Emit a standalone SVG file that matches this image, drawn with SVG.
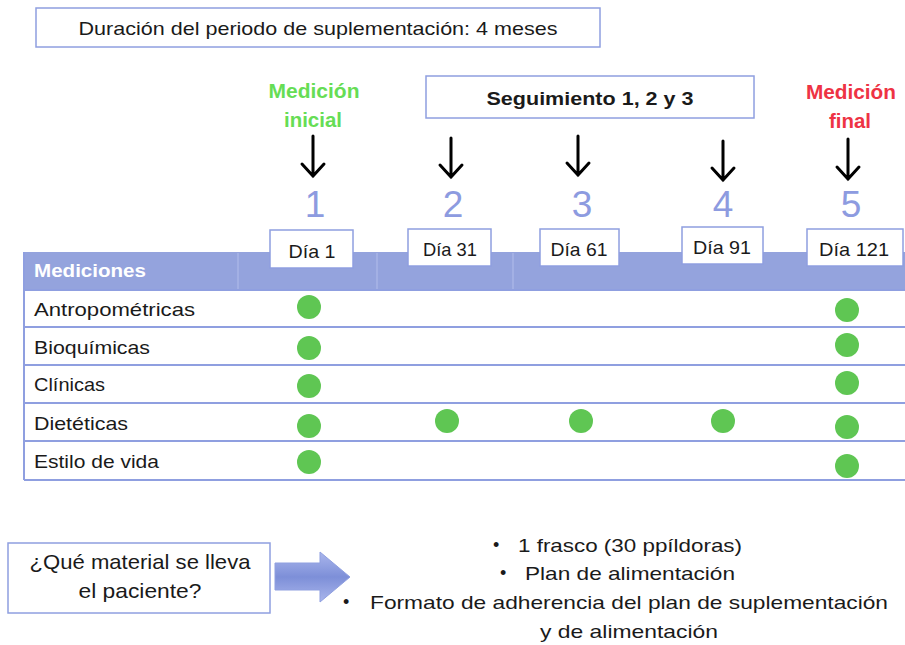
<svg xmlns="http://www.w3.org/2000/svg" width="905" height="645" viewBox="0 0 905 645">
<defs>
<style>
text{font-family:"Liberation Sans",Arial,sans-serif;fill:#1a1a1a}
.box{fill:#fff;stroke:#8f9fe0;stroke-width:1.5}
.num{font-size:37px;fill:#8d9be0;text-anchor:middle}
.lbl{font-size:18.5px}
.dia{font-size:19px;text-anchor:middle}
.dot{fill:#5fc653}
.row{stroke:#8f9fe0;stroke-width:2}
.arr{stroke:#000;stroke-width:3;fill:none;stroke-linecap:round;stroke-linejoin:miter}
.hd{font-size:21px;font-weight:bold;text-anchor:middle}
.bt{font-size:21px;text-anchor:middle}
</style>
<linearGradient id="ga" x1="0" y1="0" x2="0" y2="1">
<stop offset="0" stop-color="#aab6ec"/>
<stop offset="0.5" stop-color="#7d8fd8"/>
<stop offset="1" stop-color="#aab6ec"/>
</linearGradient>
</defs>

<g id="duracion">
<rect class="box" x="36" y="8" width="564" height="39"/>
<text x="318" y="35" font-size="19" text-anchor="middle" textLength="479" lengthAdjust="spacingAndGlyphs">Duración del periodo de suplementación: 4 meses</text>
</g>

<g id="medicion-inicial">
<text class="hd" x="314" y="98" style="fill:#66dd55" textLength="91" lengthAdjust="spacingAndGlyphs">Medición</text>
<text class="hd" x="313" y="127" style="fill:#66dd55" textLength="58" lengthAdjust="spacingAndGlyphs">inicial</text>
</g>

<g id="seguimiento">
<rect class="box" x="426" y="76" width="328" height="42"/>
<text x="590" y="105" font-size="19" font-weight="bold" text-anchor="middle" textLength="207" lengthAdjust="spacingAndGlyphs">Seguimiento 1, 2 y 3</text>
</g>

<g id="medicion-final">
<text class="hd" x="851" y="99" style="fill:#ee3344" textLength="90" lengthAdjust="spacingAndGlyphs">Medición</text>
<text class="hd" x="850" y="128" style="fill:#ee3344" textLength="42" lengthAdjust="spacingAndGlyphs">final</text>
</g>

<g id="connectors">
<path class="arr" d="M313 136V176M302 164L313 176L324 164"/>
<path class="arr" d="M451 138V177M440 165L451 177L462 165"/>
<path class="arr" d="M578 136V175M567 163L578 175L589 163"/>
<path class="arr" d="M723 141V180M712 168L723 180L734 168"/>
<path class="arr" d="M848 139V179M837 167L848 179L859 167"/>
</g>

<g id="numeros">
<text class="num" x="315" y="217">1</text>
<text class="num" x="453" y="217">2</text>
<text class="num" x="582" y="217">3</text>
<text class="num" x="723" y="217">4</text>
<text class="num" x="851" y="217">5</text>
</g>

<g id="tabla">
<rect x="24" y="252" width="881" height="38" fill="#94a3dd"/>
<line x1="238" y1="253" x2="238" y2="289" stroke="#a9b5e6" stroke-width="1.5"/>
<line x1="377" y1="253" x2="377" y2="289" stroke="#a9b5e6" stroke-width="1.5"/>
<line x1="513" y1="253" x2="513" y2="289" stroke="#a9b5e6" stroke-width="1.5"/>
<text x="34" y="277" font-size="18" font-weight="bold" style="fill:#fff" textLength="112" lengthAdjust="spacingAndGlyphs">Mediciones</text>
<line x1="24" y1="252" x2="24" y2="480" class="row"/>
<line x1="24" y1="290" x2="905" y2="290" class="row"/>
<line x1="24" y1="327" x2="905" y2="327" class="row"/>
<line x1="24" y1="365" x2="905" y2="365" class="row"/>
<line x1="24" y1="403" x2="905" y2="403" class="row"/>
<line x1="24" y1="441" x2="905" y2="441" class="row"/>
<line x1="24" y1="480" x2="905" y2="480" class="row"/>
<text class="lbl" x="34" y="316" textLength="161" lengthAdjust="spacingAndGlyphs">Antropométricas</text>
<text class="lbl" x="34" y="354" textLength="116" lengthAdjust="spacingAndGlyphs">Bioquímicas</text>
<text class="lbl" x="34" y="391" textLength="71" lengthAdjust="spacingAndGlyphs">Clínicas</text>
<text class="lbl" x="34" y="430" textLength="94" lengthAdjust="spacingAndGlyphs">Dietéticas</text>
<text class="lbl" x="34" y="468" textLength="125" lengthAdjust="spacingAndGlyphs">Estilo de vida</text>
</g>

<g id="dia-1"><rect class="box" x="270" y="230" width="83" height="38"/><text class="dia" x="312" y="258" textLength="47" lengthAdjust="spacingAndGlyphs">Día 1</text></g>
<g id="dia-31"><rect class="box" x="408" y="229" width="83" height="37"/><text class="dia" x="450" y="256" textLength="54" lengthAdjust="spacingAndGlyphs">Día 31</text></g>
<g id="dia-61"><rect class="box" x="540" y="229" width="79" height="37"/><text class="dia" x="579" y="256" textLength="57" lengthAdjust="spacingAndGlyphs">Día 61</text></g>
<g id="dia-91"><rect class="box" x="682" y="227" width="81" height="37"/><text class="dia" x="722" y="254" textLength="58" lengthAdjust="spacingAndGlyphs">Día 91</text></g>
<g id="dia-121"><rect class="box" x="807" y="229" width="96" height="37"/><text class="dia" x="854" y="256" textLength="70" lengthAdjust="spacingAndGlyphs">Día 121</text></g>

<g id="puntos">
<circle class="dot" cx="309" cy="307" r="12"/>
<circle class="dot" cx="309" cy="348" r="12"/>
<circle class="dot" cx="309" cy="386" r="12"/>
<circle class="dot" cx="309" cy="426" r="12"/>
<circle class="dot" cx="309" cy="462" r="12"/>
<circle class="dot" cx="447" cy="421" r="12"/>
<circle class="dot" cx="581" cy="421" r="12"/>
<circle class="dot" cx="723" cy="421" r="12"/>
<circle class="dot" cx="847" cy="310" r="12"/>
<circle class="dot" cx="847" cy="345" r="12"/>
<circle class="dot" cx="847" cy="383" r="12"/>
<circle class="dot" cx="847" cy="427" r="12"/>
<circle class="dot" cx="847" cy="466" r="12"/>
</g>

<g id="pregunta">
<rect class="box" x="8" y="543" width="262" height="70"/>
<text class="bt" x="140" y="569" textLength="221" lengthAdjust="spacingAndGlyphs">¿Qué material se lleva</text>
<text class="bt" x="140" y="598" textLength="123" lengthAdjust="spacingAndGlyphs">el paciente?</text>
</g>

<g id="flecha">
<path d="M275 563H320V552L350 577L320 602V590H275Z" fill="url(#ga)" stroke="#8f9fe0" stroke-width="1"/>
</g>

<g id="material">
<text x="493" y="551" font-size="18">•</text>
<text x="518" y="552" font-size="19" textLength="224" lengthAdjust="spacingAndGlyphs">1 frasco (30 ppíldoras)</text>
<text x="500" y="579" font-size="18">•</text>
<text x="525" y="580" font-size="19" textLength="210" lengthAdjust="spacingAndGlyphs">Plan de alimentación</text>
<text x="343" y="608" font-size="18">•</text>
<text x="370" y="609" font-size="19" textLength="518" lengthAdjust="spacingAndGlyphs">Formato de adherencia del plan de suplementación</text>
<text x="629" y="638" font-size="19" text-anchor="middle" textLength="178" lengthAdjust="spacingAndGlyphs">y de alimentación</text>
</g>
</svg>
